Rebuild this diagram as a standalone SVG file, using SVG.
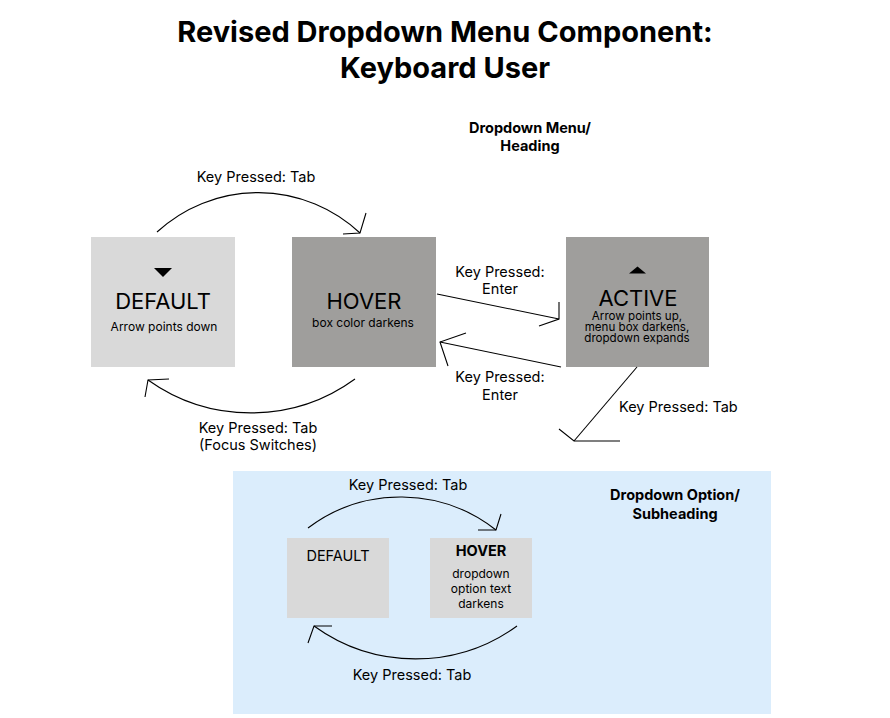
<svg xmlns="http://www.w3.org/2000/svg" width="890" height="718" viewBox="0 0 890 718">
<style>
text{font-family:Inter,"Noto Sans","Liberation Sans",sans-serif;fill:#000}
.t{font-size:29px;font-weight:700;text-anchor:middle}
.h{font-size:14.5px;font-weight:700;text-anchor:middle}
.lbl{font-size:14.5px;text-anchor:middle}
.lbs{font-size:14.5px;text-anchor:start}
.big{font-size:22px;text-anchor:middle}
.sub{font-size:12px;text-anchor:middle}
.sub2{font-size:11.6px;text-anchor:middle}
.light{fill:#d9d9d9}
.dark{fill:#9f9e9c}
.c{fill:none;stroke:#000;stroke-width:1.1}
</style>
<rect width="890" height="718" fill="#fff"/>
<text class="t" x="445" y="42">Revised Dropdown Menu Component:</text>
<text class="t" x="445" y="78">Keyboard User</text>
<text class="h" x="530" y="133">Dropdown Menu/</text>
<text class="h" x="530" y="151">Heading</text>
<rect id="panel" x="233" y="471" width="538" height="243" fill="#dbedfc"/>
<text class="h" x="675" y="500">Dropdown Option/</text>
<text class="h" x="675" y="519">Subheading</text>
<g id="menu-default">
<rect class="light" x="91" y="237" width="144" height="130"/>
<path d="M154 268 L172 268 L163 277 Z" fill="#000"/>
<text class="big" x="163" y="309">DEFAULT</text>
<text class="sub" x="164" y="331">Arrow points down</text>
</g>
<g id="menu-hover">
<rect class="dark" x="292" y="237" width="144" height="130"/>
<text class="big" x="364" y="309">HOVER</text>
<text class="sub" x="363" y="327">box color darkens</text>
</g>
<g id="menu-active">
<rect class="dark" x="566" y="237" width="143" height="130"/>
<path d="M629 273.5 L646 273.5 L637.5 266.5 Z" fill="#000"/>
<text class="big" x="638" y="306">ACTIVE</text>
<text class="sub2" x="637" y="320">Arrow points up,</text>
<text class="sub2" x="637" y="331">menu box darkens,</text>
<text class="sub2" x="637" y="342">dropdown expands</text>
</g>
<g id="option-default">
<rect class="light" x="287" y="538" width="102" height="80"/>
<text class="lbl" x="338" y="561">DEFAULT</text>
</g>
<g id="option-hover">
<rect class="light" x="430" y="538" width="102" height="80"/>
<text class="lbl" x="481" y="556" font-weight="700">HOVER</text>
<text class="sub" x="481" y="578">dropdown</text>
<text class="sub" x="481" y="593">option text</text>
<text class="sub" x="481" y="608">darkens</text>
</g>
<g id="connectors">
<path class="c" d="M157 232 A149 149 0 0 1 360 233"/>
<path class="c" d="M343 234 L360 233 L366 213"/>
<text class="lbl" x="256" y="182">Key Pressed: Tab</text>
<path class="c" d="M355 379 A177 177 0 0 1 148 380"/>
<path class="c" d="M169 379 L148 380 L145 397"/>
<text class="lbl" x="258" y="433">Key Pressed: Tab</text>
<text class="lbl" x="258" y="450">(Focus Switches)</text>
<path class="c" d="M437 294 L559 319"/>
<path class="c" d="M559 302 L559 319 L539 326"/>
<text class="lbl" x="500" y="277">Key Pressed:</text>
<text class="lbl" x="500" y="294">Enter</text>
<path class="c" d="M561 367 L440 342"/>
<path class="c" d="M466 333 L440 342 L448 366"/>
<text class="lbl" x="500" y="382">Key Pressed:</text>
<text class="lbl" x="500" y="400">Enter</text>
<path class="c" d="M637 367 L574 441"/>
<path class="c" d="M620 441 L574 441 L559 429"/>
<text class="lbs" x="619" y="412">Key Pressed: Tab</text>
<path class="c" d="M308 528 A154 154 0 0 1 496 530"/>
<path class="c" d="M478 530 L496 530 L501 514"/>
<text class="lbl" x="408" y="490">Key Pressed: Tab</text>
<path class="c" d="M517 626 A173 173 0 0 1 314 626"/>
<path class="c" d="M332 626 L314 626 L308 643"/>
<text class="lbl" x="412" y="680">Key Pressed: Tab</text>
</g>
</svg>
